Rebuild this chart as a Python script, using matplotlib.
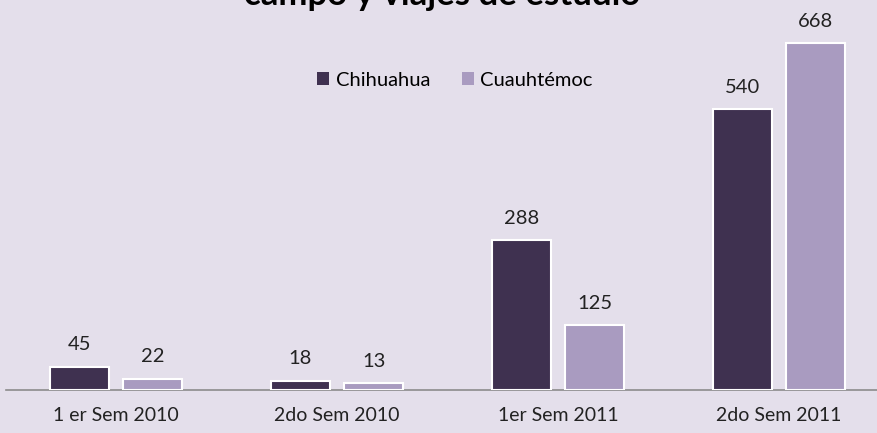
import matplotlib
matplotlib.use("Agg")
import matplotlib.pyplot as plt
from matplotlib.patches import Patch
import numpy as np

categories = ["1 er Sem 2010", "2do Sem 2010", "1er Sem 2011", "2do Sem 2011"]
series_names = ["Chihuahua", "Cuauhtémoc"]
chihuahua = [45, 18, 288, 540]
cuauhtemoc = [22, 13, 125, 668]
colors = ["#3F3150", "#A99BC0"]
bg = "#E4DFEB"

plt.rcParams['font.family'] = ['Lato', 'DejaVu Sans']

fig = plt.figure(figsize=(8.78, 4.33), dpi=100, facecolor=bg)
W, H = 878, 433
left_px = 5.5
base_px = 390
ax = fig.add_axes([left_px / W, (H - base_px) / H, (W - left_px) / W, base_px / H])
ax.set_facecolor(bg)

x = np.arange(len(categories))
bw = 0.267
off = 0.166
for vals, dx, c, name in [(chihuahua, -off, colors[0], series_names[0]),
                          (cuauhtemoc, off, colors[1], series_names[1])]:
    bars = ax.bar(x + dx, vals, width=bw, color=c, edgecolor="white", linewidth=1.5, label=name, zorder=3)
    for b, v in zip(bars, vals):
        ax.annotate(str(v), (b.get_x() + b.get_width() / 2, v), xytext=(0, 9.5),
                    textcoords="offset points", ha="center", va="bottom",
                    fontsize=14.5, color="#222222")

ax.set_xlim(-0.5, -0.5 + (W - left_px) / 221)
ax.set_ylim(0, base_px / (347 / 668))
for s in ["top", "right", "left"]:
    ax.spines[s].set_visible(False)
ax.spines["bottom"].set_color("#8C8C8C")
ax.spines["bottom"].set_linewidth(1.2)
ax.set_yticks([])
ax.set_xticks(x)
ax.set_xticklabels(categories, fontsize=14, color="#222222")
ax.tick_params(axis="x", length=0, pad=12.5)

handles = [Patch(facecolor=colors[0]), Patch(facecolor=colors[1])]
fig.legend(handles, series_names, loc="center", bbox_to_anchor=(455 / W, 1 - 80 / H),
           ncol=2, frameon=False, fontsize=14.5, handlelength=0.6, handleheight=0.6,
           handletextpad=0.3, columnspacing=1.6)

fig.text(442 / W, 1 - 5 / H, "campo y viajes de estudio", ha="center", va="baseline",
         fontsize=25, fontweight="bold", color="#000000")

fig.savefig("out.png", dpi=100, facecolor=bg)
